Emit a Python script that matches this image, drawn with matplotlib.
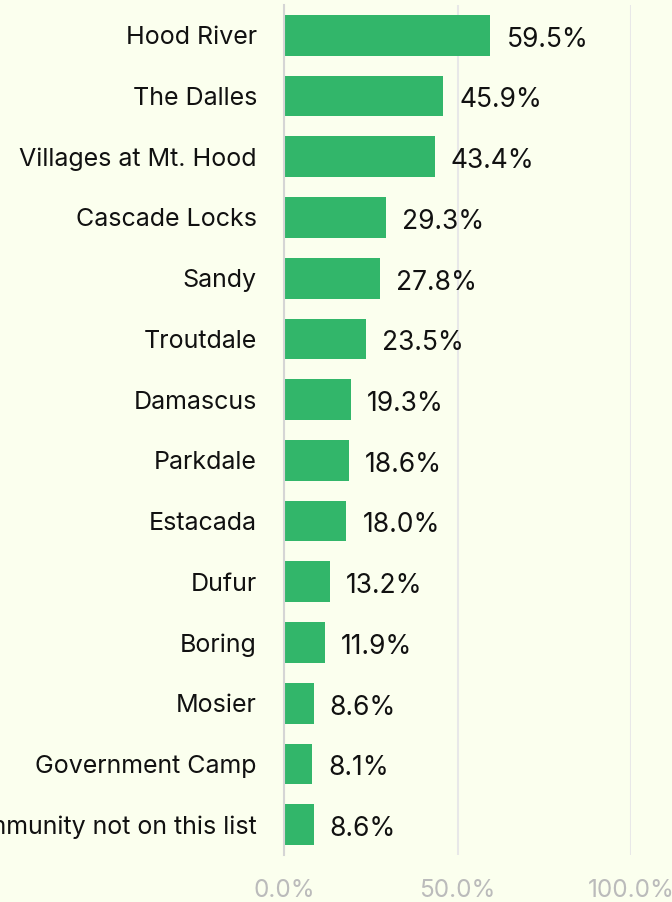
import matplotlib
matplotlib.use('Agg')
import matplotlib.pyplot as plt
from matplotlib.ticker import FuncFormatter

# 地域別の割合
places = ['Hood River', 'The Dalles', 'Villages at Mt. Hood', 'Cascade Locks', 'Sandy',
          'Troutdale', 'Damascus', 'Parkdale', 'Estacada', 'Dufur', 'Boring', 'Mosier',
          'Government Camp', 'A community not on this list']
pct = [59.5, 45.9, 43.4, 29.3, 27.8, 23.5, 19.3, 18.6, 18.0, 13.2, 11.9, 8.6, 8.1, 8.6]
xticks = [0, 50, 100]

bg = '#FBFFEE'
green = '#32B66A'

plt.rcParams['font.family'] = ['Inter', 'DejaVu Sans']

fig = plt.figure(figsize=(6.72, 9.02), dpi=100, facecolor=bg)
ax = fig.add_axes([284/672, 1-855/902, (631-284)/672, 850/902])
ax.set_facecolor(bg)

ypos = list(range(len(places)))
ax.barh(ypos, pct, height=0.67, color=green, zorder=3)
for y, v in zip(ypos, pct):
    ax.annotate('{:.1f}%'.format(v), (v, y), xytext=(11.5, -1), textcoords='offset points',
                ha='left', va='center_baseline', fontsize=19, color='#111111')

ax.set_ylim(len(places)-0.5, -0.5)
ax.set_xlim(0, 100)
ax.set_yticks(ypos)
ax.set_yticklabels(places, fontsize=18, color='#111111')
ax.set_xticks(xticks)
ax.xaxis.set_major_formatter(FuncFormatter(lambda x, p: '{:.1f}%'.format(x)))
ax.tick_params(axis='x', length=0, pad=17, labelsize=17.5, labelcolor='#BBBBBB')
ax.tick_params(axis='y', length=0, pad=19.5)
ax.grid(axis='x', color='#E8E8E8', linewidth=1.5, zorder=0)
ax.set_axisbelow(True)
for s in ['top', 'right', 'bottom']:
    ax.spines[s].set_visible(False)
ax.spines['left'].set_color('#D5D5D5')
ax.spines['left'].set_linewidth(1.5)
ax.spines['left'].set_zorder(4)

fig.savefig('out.png', dpi=100, facecolor=bg)
